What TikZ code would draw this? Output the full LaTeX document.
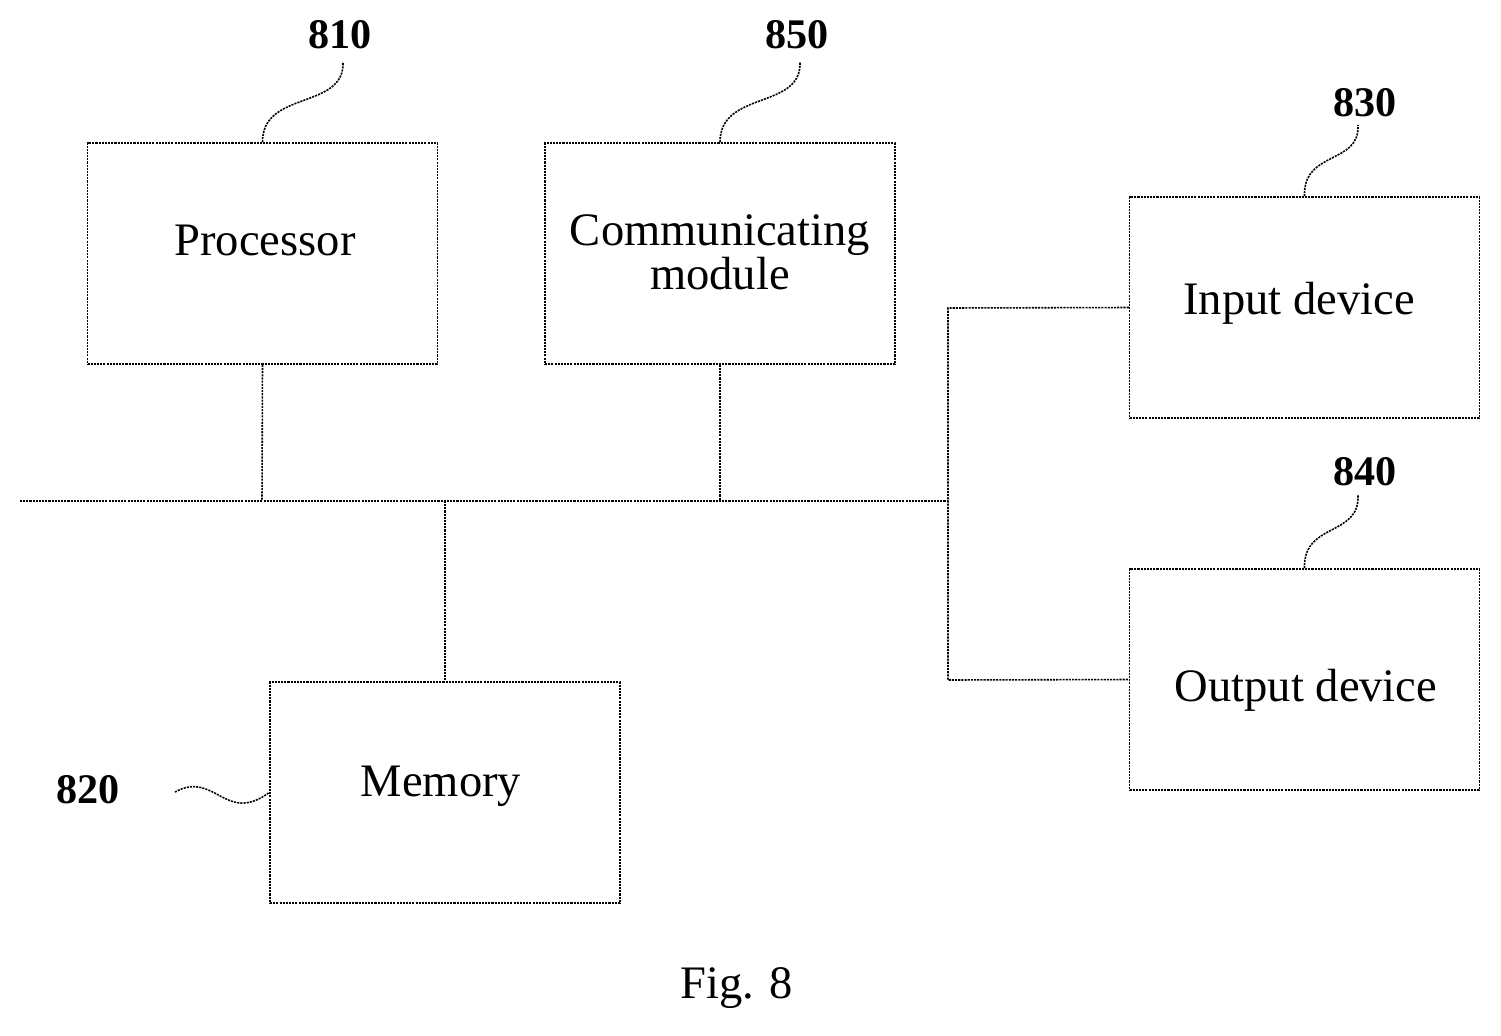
\documentclass[tikz,border=0pt]{standalone}
\usepackage{fontspec}
\setmainfont{Liberation Serif}
\begin{document}
\begin{tikzpicture}[
    x=0.02cm,
    y=-0.02cm,
    box/.style={
      draw,
      line width=0.9pt,
      dash pattern=on 1.2pt off 0.6pt,
      minimum width=7cm,
      minimum height=4.42cm,
      font=\fontsize{26.5}{26.5}\selectfont
    },
    wire/.style={
      line width=0.9pt,
      dash pattern=on 1.2pt off 0.6pt
    },
    tag/.style={
      font=\fontsize{24}{24}\selectfont\bfseries
    },
    txt/.style={
      align=center,
      font=\fontsize{26.5}{16}\selectfont
    }
  ]
    \useasboundingbox (0, 0) rectangle (1501, 1035);

    \node[box] (proc) at (262.5, 253.5) {};
    \node[box] (comm) at (720, 253.5) {};
    \node[box] (inp) at (1304.5, 307.5) {};
    \node[box] (outp) at (1304.5, 679.5) {};
    \node[box] (mem) at (445, 792.5) {};

    \node[txt] (proct) at (265, 240) {Processor};
    \node[txt] (commt) at (720, 252) {Communicating\\module};
    \node[txt] (inpt) at (1299, 303) {Input device};
    \node[txt] (outpt) at (1306, 690) {Output device};
    \node[txt] (memt) at (441, 786) {Memory};

    \coordinate (busl) at (20, 501);
    \coordinate (busr) at (948, 501);
    \coordinate (bproc) at (262, 501);
    \coordinate (bcomm) at (720, 501);
    \coordinate (bmem) at (445, 501);
    \coordinate (rtop) at (948, 308);
    \coordinate (rbot) at (948, 680);

    \draw[wire] (busl) -- (busr);
    \draw[wire] (proc.south) -- (bproc);
    \draw[wire] (comm.south) -- (bcomm);
    \draw[wire] (bmem) -- (mem.north);
    \draw[wire] (inp.west) -- (rtop) -- (rbot) -- (outp.west);

    \node[tag] (t810) at (340, 35) {810};
    \node[tag] (t850) at (797, 35) {850};
    \node[tag] (t830) at (1365, 103) {830};
    \node[tag] (t840) at (1365, 472) {840};
    \node[tag] (t820) at (88, 790) {820};

    \draw[wire] (proc.north) .. controls (262, 90) and (345, 110) .. (343, 62);
    \draw[wire] (comm.north) .. controls (720, 90) and (802, 110) .. (800, 62);
    \draw[wire] (inp.north) .. controls (1303, 150) and (1360, 165) .. (1358, 125);
    \draw[wire] (outp.north) .. controls (1303, 522) and (1360, 537) .. (1358, 495);
    \draw[wire] (175, 792) .. controls (215, 770) and (225, 825) .. (mem.west);

    \node[font=\fontsize{26.5}{26.5}\selectfont] (fig) at (737, 988) {Fig. 8};
  \end{tikzpicture}
\end{document}
